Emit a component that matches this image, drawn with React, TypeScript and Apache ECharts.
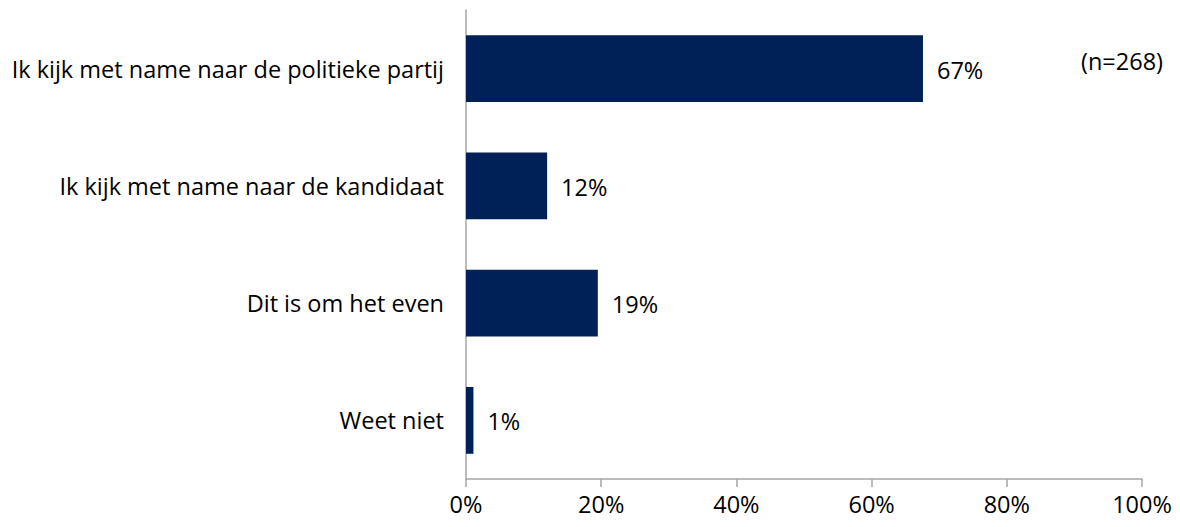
import React, { useEffect, useRef } from "react";
import * as echarts from "echarts";

const categories = [
  "Ik kijk met name naar de politieke partij",
  "Ik kijk met name naar de kandidaat",
  "Dit is om het even",
  "Weet niet",
];
const values = [67.6, 12.0, 19.5, 1.1];
const valueLabels = ["67%", "12%", "19%", "1%"];
const xTicks = [0, 20, 40, 60, 80, 100];
const note = "(n=268)";

const FONT = "'Open Sans', 'Liberation Sans', sans-serif";
const FS = 23.5;

export default function App() {
  const ref = useRef<HTMLDivElement>(null);
  useEffect(() => {
    if (!ref.current) return;
    const chart = echarts.init(ref.current, null, { renderer: "svg" });
    chart.setOption({
      animation: false,
      backgroundColor: "#ffffff",
      textStyle: { fontFamily: FONT },
      grid: { left: 466, right: 38, top: 10, bottom: 48, containLabel: false },
      xAxis: {
        type: "value",
        min: xTicks[0],
        max: xTicks[xTicks.length - 1],
        interval: 20,
        axisLine: { show: true, lineStyle: { color: "#a6a6a6", width: 1.5 } },
        axisTick: { show: true, length: 8, lineStyle: { color: "#a6a6a6", width: 1.5 } },
        splitLine: { show: false },
        axisLabel: {
          color: "#000000",
          fontSize: FS,
          fontFamily: FONT,
          margin: 13,
          lineHeight: FS,
          formatter: (v: number) => `${v}%`,
        },
      },
      yAxis: {
        type: "category",
        inverse: true,
        data: categories,
        axisLine: { show: true, lineStyle: { color: "#a6a6a6", width: 1.5 } },
        axisTick: { show: false },
        axisLabel: {
          color: "#000000",
          fontSize: FS,
          fontFamily: FONT,
          margin: 22,
        },
      },
      series: [
        {
          type: "bar",
          data: values,
          barCategoryGap: "43%",
          itemStyle: { color: "#002157" },
          label: {
            show: true,
            position: "right",
            distance: 14,
            offset: [0, 1],
            color: "#000000",
            fontSize: FS,
            fontFamily: FONT,
            formatter: (p: any) => valueLabels[p.dataIndex],
          },
        },
      ],
      graphic: [
        {
          type: "text",
          x: 1081,
          y: 61,
          style: {
            text: note,
            fill: "#000000",
            fontSize: FS,
            fontFamily: FONT,
            verticalAlign: "middle",
          },
        },
      ],
    });
    return () => chart.dispose();
  }, []);
  return <div ref={ref} style={{ width: 1180, height: 527, margin: -8 }} />;
}
